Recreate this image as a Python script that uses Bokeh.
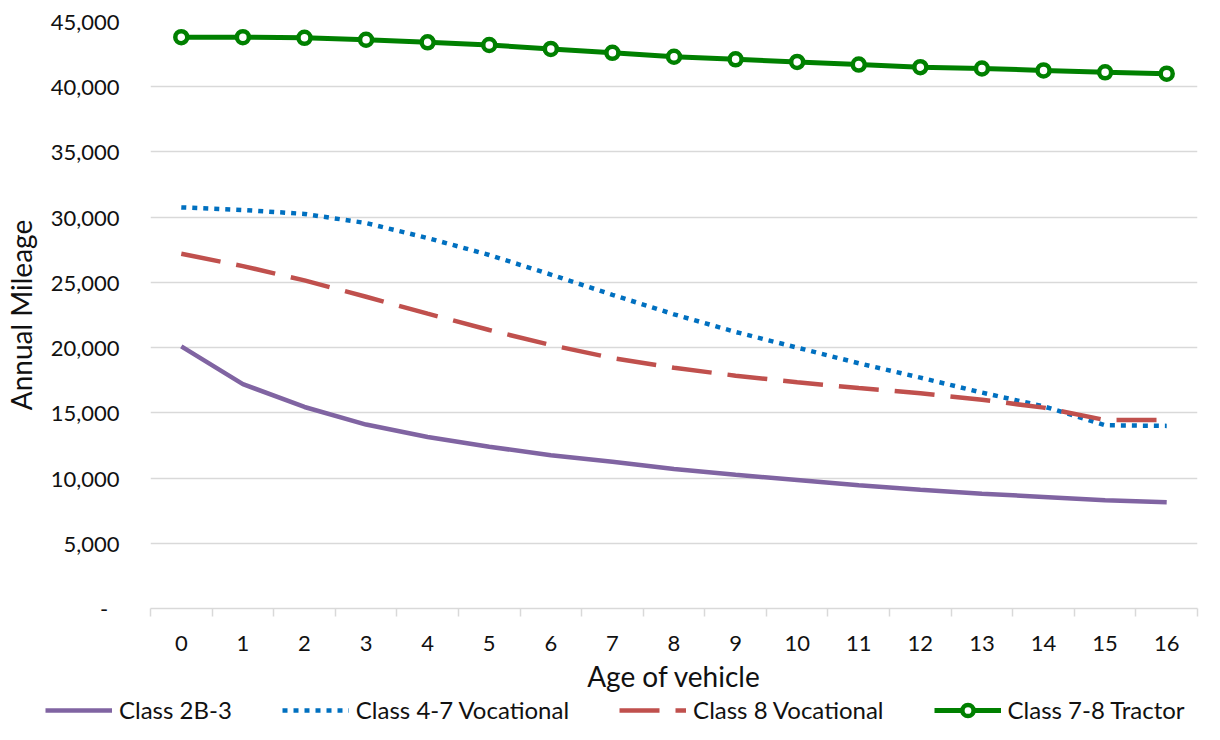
from bokeh.plotting import figure
from bokeh.layouts import column, row
from bokeh.models import (FixedTicker, NumeralTickFormatter, Legend, LegendItem, Range1d)
from bokeh.embed import file_html
from bokeh.resources import INLINE

ages = list(range(17))
age_labels = [str(a) for a in ages]

class_2b3 = [20100, 17200, 15450, 14100, 13150, 12400, 11750, 11250, 10700,
             10250, 9850, 9450, 9100, 8800, 8550, 8300, 8150]
class_47_voc = [30750, 30550, 30250, 29550, 28400, 27100, 25600, 24050, 22550,
                21200, 20000, 18800, 17700, 16550, 15500, 14050, 14000]
class_8_voc = [27200, 26250, 25150, 23900, 22600, 21350, 20200, 19200, 18450,
               17850, 17350, 16900, 16500, 16000, 15400, 14450, 14450]
class_78_tractor = [43800, 43800, 43750, 43600, 43400, 43200, 42900, 42600, 42300,
                    42100, 41900, 41700, 41500, 41400, 41250, 41100, 41000]

series_names = ["Class 2B-3", "Class 4-7 Vocational", "Class 8 Vocational", "Class 7-8 Tractor"]
y_ticks = list(range(0, 45001, 5000))

FONT = "Lato"
TXT = "#111111"
W = 1204
MAIN_H = 695
LEG_H = 29

STYLES = [
    dict(line_color="#8064A2", line_width=4.5),
    dict(line_color="#0070C0", line_width=4.5, line_dash="5 6"),
    dict(line_color="#C0504D", line_width=4.5, line_dash="40 16"),
    dict(line_color="#008000", line_width=5),
]
MARKER = dict(marker="circle", size=12, fill_color="white", line_color="#008000", line_width=4.5)
SERIES = [class_2b3, class_47_voc, class_8_voc, class_78_tractor]


def draw(fig):
    rs = [fig.line(ages, s, **st) for s, st in zip(SERIES, STYLES)]
    m = fig.scatter(ages, class_78_tractor, **MARKER)
    return rs, m


p = figure(width=W, height=MAIN_H, output_backend="svg", toolbar_location=None,
           x_range=Range1d(-0.5, 16.5), y_range=Range1d(0, 45000),
           min_border_left=150, min_border_right=7, min_border_top=21,
           min_border_bottom=84)
p.outline_line_color = None
p.background_fill_color = "white"
p.border_fill_color = "white"
draw(p)

# x axis
xa = p.xaxis[0]
xa.ticker = FixedTicker(ticks=ages, minor_ticks=[a - 0.5 for a in range(18)])
xa.major_label_overrides = {a: l for a, l in zip(ages, age_labels)}
xa.major_tick_line_color = None
xa.major_tick_out = 0
xa.major_tick_in = 0
xa.minor_tick_line_color = "#d9d9d9"
xa.minor_tick_line_width = 1.5
xa.minor_tick_out = 8
xa.minor_tick_in = 0
xa.axis_line_color = "#d9d9d9"
xa.axis_line_width = 1.5
xa.major_label_standoff = 19
xa.major_label_text_font = FONT
xa.major_label_text_font_size = "22px"
xa.major_label_text_color = TXT
xa.axis_label = "Age of vehicle"
xa.axis_label_text_font = FONT
xa.axis_label_text_font_size = "28px"
xa.axis_label_text_font_style = "normal"
xa.axis_label_text_color = TXT
xa.axis_label_standoff = 5

# y axis
ya = p.yaxis[0]
ya.ticker = FixedTicker(ticks=y_ticks)
ya.formatter = NumeralTickFormatter(format="0,0")
ya.major_label_overrides = {0: "-\u00a0\u00a0"}
ya.axis_line_color = None
ya.major_tick_line_color = None
ya.minor_tick_line_color = None
ya.major_tick_out = 0
ya.major_label_standoff = 31
ya.major_label_text_font = FONT
ya.major_label_text_font_size = "22px"
ya.major_label_text_color = TXT
ya.axis_label = "Annual Mileage"
ya.axis_label_text_font = FONT
ya.axis_label_text_font_size = "28px"
ya.axis_label_text_font_style = "normal"
ya.axis_label_text_color = TXT
ya.axis_label_standoff = 10

p.xgrid.grid_line_color = None
p.ygrid.grid_line_color = "#d9d9d9"
p.ygrid.grid_line_width = 1.5

# legend strip: a second figure whose frame spans the full width
lf = figure(width=W, height=LEG_H, output_backend="svg", toolbar_location=None,
            x_range=Range1d(-0.5, 16.5), y_range=Range1d(0, 1),
            x_axis_type=None, y_axis_type=None,
            min_border_left=0, min_border_right=0, min_border_top=0, min_border_bottom=0)
lf.outline_line_color = None
lf.grid.grid_line_color = None
lrs, lm = draw(lf)

legend = Legend(items=[
    LegendItem(label=series_names[0], renderers=[lrs[0]]),
    LegendItem(label=series_names[1], renderers=[lrs[1]]),
    LegendItem(label=series_names[2], renderers=[lrs[2]]),
    LegendItem(label=series_names[3], renderers=[lrs[3], lm]),
], orientation="horizontal", location=(45, 0),
    glyph_width=67, glyph_height=28, label_standoff=7, spacing=50,
    padding=0, margin=0, border_line_color=None, background_fill_alpha=0,
    label_text_font=FONT, label_text_font_size="24px", label_text_color=TXT)
lf.add_layout(legend)

layout = column(p, row(lf), spacing=0)
open("out.html", "w").write(file_html(layout, INLINE))
